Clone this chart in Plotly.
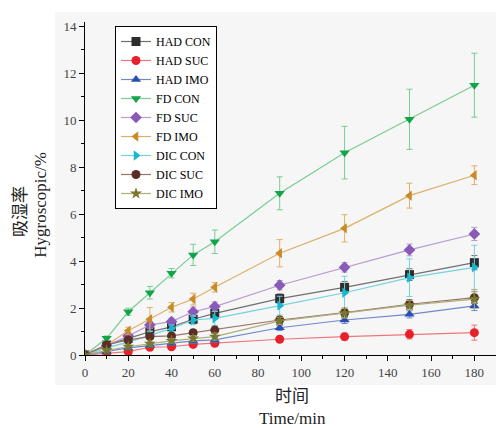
import plotly.graph_objects as go

time = [0, 10, 20, 30, 40, 50, 60, 90, 120, 150, 180]

names = ["HAD CON", "HAD SUC", "HAD IMO", "FD CON", "FD SUC", "FD IMO",
         "DIC CON", "DIC SUC", "DIC IMO"]

had_con = [0, 0.43, 0.71, 0.99, 1.20, 1.52, 1.77, 2.40, 2.88, 3.42, 3.93]
had_suc = [0, 0.06, 0.14, 0.33, 0.35, 0.45, 0.50, 0.67, 0.78, 0.88, 0.95]
had_imo = [0, 0.15, 0.30, 0.40, 0.50, 0.60, 0.64, 1.16, 1.49, 1.73, 2.09]
fd_con = [0, 0.71, 1.84, 2.65, 3.48, 4.26, 4.82, 6.88, 8.61, 10.03, 11.48]
fd_suc = [0, 0.40, 0.81, 1.28, 1.42, 1.84, 2.06, 2.97, 3.73, 4.47, 5.15]
fd_imo = [0, 0.43, 1.03, 1.52, 2.03, 2.38, 2.88, 4.33, 5.39, 6.78, 7.65]
dic_con = [0, 0.30, 0.55, 0.85, 1.13, 1.49, 1.56, 2.10, 2.65, 3.29, 3.73]
dic_suc = [0, 0.43, 0.64, 0.78, 0.81, 0.95, 1.06, 1.49, 1.80, 2.16, 2.44]
dic_imo = [0, 0.20, 0.35, 0.48, 0.60, 0.70, 0.78, 1.45, 1.78, 2.12, 2.38]

had_con_err = [0, 0.05, 0.08, 0.10, 0.10, 0.12, 0.15, 0.20, 0.25, 0.25, 0.30]
had_suc_err = [0, 0.05, 0.05, 0.08, 0.08, 0.10, 0.10, 0.10, 0.15, 0.20, 0.32]
had_imo_err = [0, 0.05, 0.05, 0.08, 0.08, 0.10, 0.10, 0.12, 0.15, 0.15, 0.20]
fd_con_err = [0, 0.10, 0.15, 0.27, 0.20, 0.45, 0.50, 0.70, 1.12, 1.28, 1.36]
fd_suc_err = [0, 0.05, 0.10, 0.15, 0.15, 0.20, 0.20, 0.20, 0.20, 0.25, 0.28]
fd_imo_err = [0, 0.10, 0.15, 0.50, 0.20, 0.25, 0.20, 0.58, 0.58, 0.53, 0.40]
dic_con_err = [0, 0.05, 0.10, 0.15, 0.15, 0.20, 0.30, 0.40, 0.70, 0.80, 0.94]
dic_suc_err = [0, 0.05, 0.08, 0.10, 0.10, 0.12, 0.15, 0.15, 0.20, 0.20, 0.25]
dic_imo_err = [0, 0.05, 0.08, 0.10, 0.10, 0.12, 0.15, 0.15, 0.20, 0.20, 0.40]

values = [had_con, had_suc, had_imo, fd_con, fd_suc, fd_imo, dic_con, dic_suc, dic_imo]
errors = [had_con_err, had_suc_err, had_imo_err, fd_con_err, fd_suc_err, fd_imo_err,
          dic_con_err, dic_suc_err, dic_imo_err]

marker_colors = ["#2e2e2e", "#e8202a", "#2a4fb0", "#12a548", "#8a5ab8", "#c98a28",
                 "#16b8d0", "#5a2e24", "#77772e"]
line_colors = ["#6f6f6f", "#f0767a", "#6f88cc", "#79cc95", "#b79bd2", "#dcb06a",
               "#74d2e0", "#99736b", "#aeae78"]
symbols = ["square", "circle", "triangle-up", "triangle-down", "diamond",
           "triangle-left", "triangle-right", "circle", "star"]

SERIF = "Liberation Serif, Times New Roman, Noto Sans CJK SC, serif"

fig = go.Figure()
for name, y, e, mc, lc, sym in zip(names, values, errors, marker_colors, line_colors, symbols):
    fig.add_trace(go.Scatter(
        x=time, y=y, name=name, mode="lines+markers",
        line=dict(color=lc, width=1.2),
        marker=dict(symbol=sym, size=9, color=mc, line=dict(width=0)),
        error_y=dict(type="data", array=e, visible=True, color=lc, thickness=1, width=3),
    ))

fig.add_shape(type="rect", xref="paper", yref="paper", x0=-0.073, x1=1.01, y0=-0.09, y1=1.03,
              fillcolor="#f6f6f6", line=dict(width=0), layer="below")

fig.update_layout(
    width=496, height=428,
    margin=dict(l=85, r=0, t=22, b=73),
    paper_bgcolor="white", plot_bgcolor="rgba(0,0,0,0)",
    font=dict(family=SERIF, size=13, color="#333333"),
    showlegend=True,
    legend=dict(x=0.073, y=0.988, xanchor="left", yanchor="top",
                bgcolor="white", bordercolor="black", borderwidth=1,
                font=dict(family=SERIF, size=12, color="black"),
                tracegroupgap=0, itemwidth=30),
    xaxis=dict(range=[0, 190], tickvals=list(range(0, 181, 20)),
               showline=True, linecolor="black", linewidth=1, mirror=False,
               ticks="outside", ticklen=5, tickcolor="black", showgrid=False, zeroline=False,
               minor=dict(ticks="outside", ticklen=3, dtick=10, tickcolor="black"),
               tickfont=dict(size=13, color="#444444")),
    yaxis=dict(range=[0, 14.17], tickvals=list(range(0, 15, 2)),
               showline=True, linecolor="black", linewidth=1, mirror=False,
               ticks="outside", ticklen=5, tickcolor="black", showgrid=False, zeroline=False,
               minor=dict(ticks="outside", ticklen=3, dtick=1, tickcolor="black"),
               tickfont=dict(size=13, color="#444444")),
)

fig.add_annotation(text="吸湿率", xref="paper", yref="paper", x=-0.155, y=0.43,
                   xanchor="center", yanchor="middle", textangle=-90, showarrow=False,
                   font=dict(family=SERIF, size=17, color="#222222"))
fig.add_annotation(text="Hygroscopic/%", xref="paper", yref="paper", x=-0.108, y=0.45,
                   xanchor="center", yanchor="middle", textangle=-90, showarrow=False,
                   font=dict(family=SERIF, size=17, color="#222222"))
fig.add_annotation(text="时间", xref="paper", yref="paper", x=0.503, y=-0.126,
                   xanchor="center", yanchor="middle", showarrow=False,
                   font=dict(family=SERIF, size=17, color="#222222"))
fig.add_annotation(text="Time/min", xref="paper", yref="paper", x=0.505, y=-0.192,
                   xanchor="center", yanchor="middle", showarrow=False,
                   font=dict(family=SERIF, size=17, color="#222222"))

fig.write_html("out.html")
